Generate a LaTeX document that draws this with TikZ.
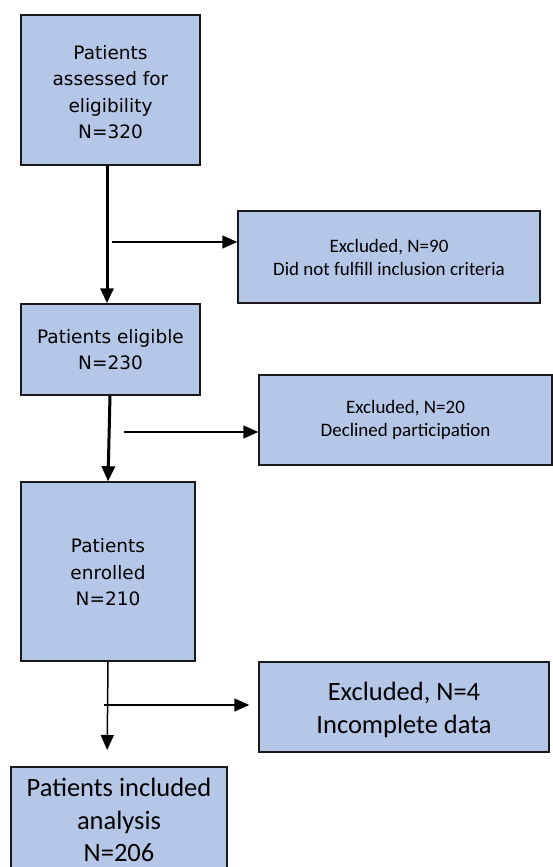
\documentclass[tikz,border=0pt]{standalone}
\usepackage{fontspec}
\newfontfamily\boxfont{DejaVu Sans}
\newfontfamily\calfont{Carlito}
\usetikzlibrary{arrows.meta}
\definecolor{boxblue}{HTML}{B4C7E7}
\definecolor{edge}{HTML}{1A1A1A}
\tikzset{
  flowbox/.style={draw=edge, line width=1.5pt, fill=boxblue, rectangle, align=center, inner sep=0pt},
  bigfont/.style={font=\boxfont\fontsize{18.5}{26.5}\selectfont},
  smallcal/.style={font=\calfont\fontsize{19}{23}\selectfont},
  largecal/.style={font=\calfont\fontsize{26.5}{32.5}\selectfont},
  thickarrow/.style={line width=3pt, -{Triangle[length=15pt,width=13pt]}},
  thinarrow/.style={line width=1.5pt, -{Triangle[length=15pt,width=13pt]}}
}
\begin{document}
\begin{tikzpicture}[x=1pt,y=-1pt]
\useasboundingbox (0,0) rectangle (553,867);
\clip (0,0) rectangle (553,867);
\fill[white] (0,0) rectangle (553,867);

\node[flowbox, minimum width=179pt, minimum height=150pt] (b1) at (110.5,90) {};
\node[bigfont, align=center] (b1t) at (110.5,92)
  {Patients\\assessed for\\eligibility\\N=320};
\node[flowbox, smallcal, minimum width=302pt, minimum height=92pt] (e1) at (389,257)
  {Excluded, N=90\\Did not fulfill inclusion criteria};
\node[flowbox, bigfont, minimum width=179pt, minimum height=91pt] (b2) at (110.5,349.5)
  {Patients eligible\\N=230};
\node[flowbox, smallcal, minimum width=293pt, minimum height=90pt] (e2) at (405.5,420)
  {Excluded, N=20\\Declined participation};
\node[flowbox, minimum width=174pt, minimum height=179pt] (b3) at (108,571.5) {};
\node[bigfont, align=center] (b3t) at (108,572.5)
  {Patients\\enrolled\\N=210};
\node[flowbox, minimum width=290pt, minimum height=90pt] (e3) at (404,707) {};
\node[largecal, align=center] (e3t) at (404,710)
  {Excluded, N=4\\Incomplete data};
\node[flowbox, minimum width=216pt, minimum height=114pt, anchor=north] (b4) at (119,766)
  {};
\node[largecal, align=center, anchor=north] (b4t) at (119,775)
  {Patients included\\analysis\\N=206};

\coordinate (c1) at (112,242);
\coordinate (c2) at (124,432);
\coordinate (c3) at (104,705);

\draw[thickarrow] ([xshift=-3.5pt]b1.south) -- ([xshift=-3.5pt]b2.north);
\draw[thinarrow] (c1) -- (c1 -| e1.west);
\draw[thickarrow] ([xshift=-0.5pt]b2.south) -- (b3.north);
\draw[thinarrow] (c2) -- (c2 -| e2.west);
\draw[thinarrow, shorten >=16pt] (b3.south) -- ([xshift=-12pt]b4.north);
\draw[thinarrow, shorten >=9pt] (c3) -- (c3 -| e3.west);
\end{tikzpicture}
\end{document}
